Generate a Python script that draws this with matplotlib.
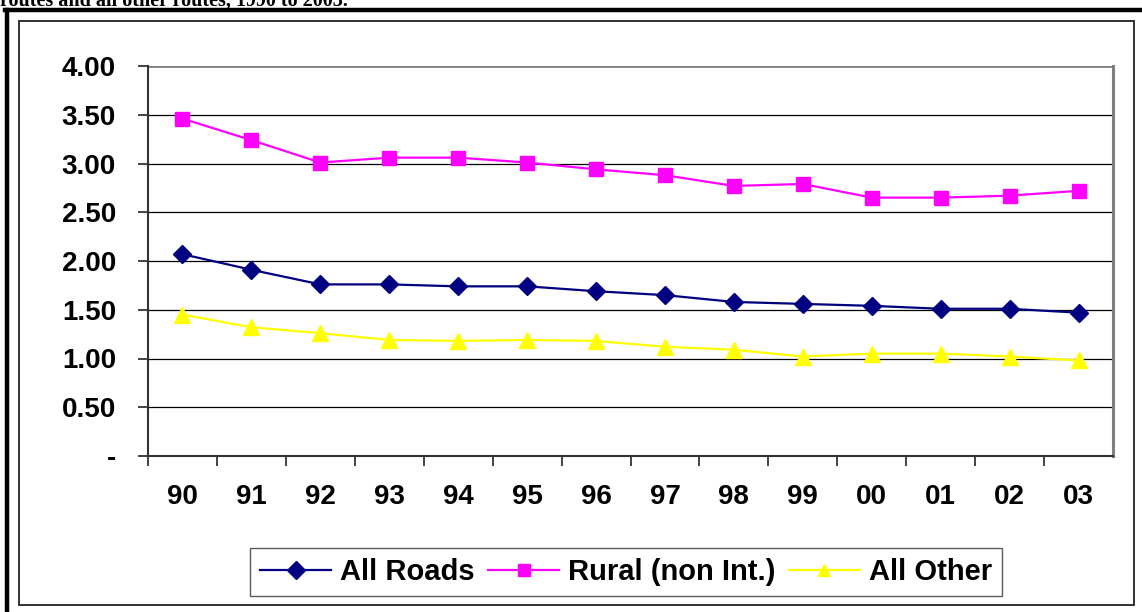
import matplotlib
matplotlib.use("Agg")
import matplotlib.pyplot as plt
from matplotlib.patches import Rectangle
from matplotlib.lines import Line2D

years = ["90", "91", "92", "93", "94", "95", "96", "97", "98", "99", "00", "01", "02", "03"]
all_roads = [2.07, 1.91, 1.76, 1.76, 1.74, 1.74, 1.69, 1.65, 1.58, 1.56, 1.54, 1.51, 1.51, 1.47]
rural = [3.46, 3.24, 3.01, 3.06, 3.06, 3.01, 2.94, 2.88, 2.77, 2.79, 2.65, 2.65, 2.67, 2.72]
all_other = [1.45, 1.32, 1.26, 1.19, 1.18, 1.19, 1.18, 1.12, 1.09, 1.02, 1.05, 1.05, 1.02, 0.98]
yticks = [0, 0.5, 1.0, 1.5, 2.0, 2.5, 3.0, 3.5, 4.0]
ytick_labels = ["-", "0.50", "1.00", "1.50", "2.00", "2.50", "3.00", "3.50", "4.00"]
series_names = ["All Roads", "Rural (non Int.)", "All Other"]

W, H = 1142, 612
fig = plt.figure(figsize=(W / 100, H / 100), dpi=100)

# cut-off caption text at top (partially outside the picture, as in the reference)
fig.text(0.0, 1 - 1 / H, "routes and all other routes, 1990 to 2003.", family="Liberation Serif",
         fontweight="bold", fontsize=14.5, ha="left", va="center")

# outer frame lines
fig.add_artist(Line2D([5 / W, 1.0], [1 - 10 / H, 1 - 10 / H], color="black", lw=3.2,
                      transform=fig.transFigure))
fig.add_artist(Line2D([6.5 / W, 6.5 / W], [0, 1 - 10 / H], color="black", lw=3.2,
                      transform=fig.transFigure))
fig.add_artist(Rectangle((19 / W, 1 - 605 / H), (1134 - 19) / W, (605 - 21) / H, fill=False,
                         edgecolor="#222222", lw=1.3, transform=fig.transFigure))

ax = fig.add_axes([148 / W, 1 - 456 / H, (1113 - 148) / W, (456 - 66) / H])
x = list(range(len(years)))
ax.plot(x, all_roads, color="#000080", marker="D", markersize=9.5, lw=1.6, label=series_names[0])
ax.plot(x, rural, color="#FF00FF", marker="s", markersize=10, lw=1.6, label=series_names[1])
ax.plot(x, all_other, color="#FFFF00", marker="^", markersize=11.5, lw=1.6, label=series_names[2])

ax.set_xlim(-0.5, len(years) - 0.5)
ax.set_ylim(0, 4)
ax.set_yticks(yticks)
ax.set_yticklabels(ytick_labels)
for y in yticks[1:]:
    ax.axhline(y, color="#000000", lw=0.9, zorder=0)
ax.axhline(4.0, color="#808080", lw=2, zorder=1)

ax.set_xticks(x)
ax.set_xticklabels(years)
ax.set_xticks([i - 0.5 for i in range(len(years))], minor=True)
ax.tick_params(axis="x", which="major", length=0, pad=20)
ax.tick_params(axis="x", which="minor", length=7.2, width=1.2, color="#222222", direction="out")
ax.tick_params(axis="y", length=7.2, width=1.2, color="#222222", direction="out", pad=15.8)
for lab in ax.get_xticklabels() + ax.get_yticklabels():
    lab.set_fontfamily("Liberation Sans")
    lab.set_fontweight("bold")
    lab.set_fontsize(20)

ax.spines["left"].set_color("#333333")
ax.spines["left"].set_linewidth(1.5)
ax.spines["bottom"].set_color("#333333")
ax.spines["bottom"].set_linewidth(1.5)
ax.spines["top"].set_visible(False)
ax.spines["right"].set_color("#808080")
ax.spines["right"].set_linewidth(2.2)

leg = fig.legend(loc="center", bbox_to_anchor=(626 / W, 1 - 572 / H), ncol=3, frameon=True,
                 fancybox=False, edgecolor="#333333", handlelength=2.45, handletextpad=0.3,
                 columnspacing=0.45, borderpad=0.35, borderaxespad=0,
                 prop={"family": "Liberation Sans", "weight": "bold", "size": 21})
leg.get_frame().set_linewidth(1.0)
for h in leg.legend_handles:
    h.set_markersize(9)

fig.savefig("out.png", dpi=100, facecolor="white")
